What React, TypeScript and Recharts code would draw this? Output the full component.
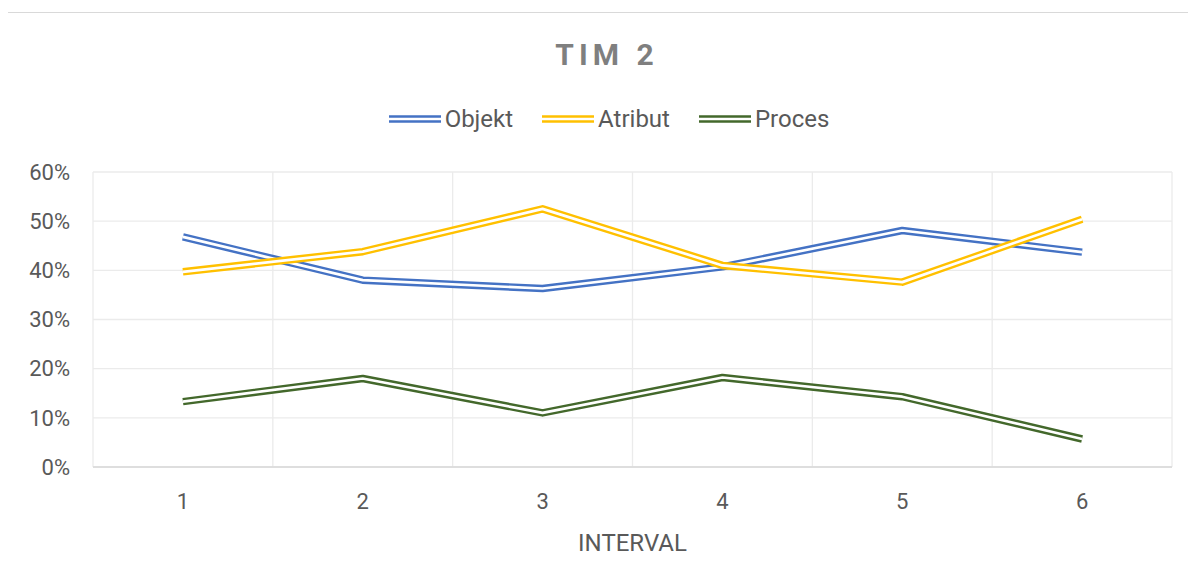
import { LineChart, Line, XAxis, YAxis, CartesianGrid, ReferenceLine } from 'recharts';

// values, in percent
const intervals = [1, 2, 3, 4, 5, 6];
const objekt = [46.8, 38.0, 36.3, 40.7, 48.1, 43.7];
const atribut = [39.7, 43.8, 52.5, 41.0, 37.6, 50.4];
const proces = [13.3, 18.0, 11.0, 18.2, 14.3, 5.7];
const yTicks = [0, 10, 20, 30, 40, 50, 60];
// category boundaries (vertical gridlines sit between the intervals)
const bounds = [0.5, 1.5, 2.5, 3.5, 4.5, 5.5, 6.5];

const series = [
  { key: 'objekt', name: 'Objekt', color: '#4472c4' },
  { key: 'atribut', name: 'Atribut', color: '#ffc000' },
  { key: 'proces', name: 'Proces', color: '#43682b' },
];

const data = intervals.map((x, i) => ({
  x,
  objekt: objekt[i],
  atribut: atribut[i],
  proces: proces[i],
}));

const FONT = 'Roboto, "Noto Sans", sans-serif';
const TEXT = '#595959';

function DoubleIcon({ color }: { color: string }) {
  return (
    <svg width={52} height={10} style={{ display: 'block' }}>
      <line x1={0} y1={5} x2={52} y2={5} stroke={color} strokeWidth={7.5} />
      <line x1={0} y1={5} x2={52} y2={5} stroke="#fff" strokeWidth={2.7} />
    </svg>
  );
}

function ChartLegend() {
  return (
    <div
      style={{
        position: 'absolute',
        top: 93,
        left: 0,
        width: '100%',
        display: 'flex',
        justifyContent: 'center',
        alignItems: 'center',
        height: 26,
        fontSize: 24,
        color: TEXT,
        paddingLeft: 4,
        boxSizing: 'border-box',
      }}
    >
      {series.map((s, i) => (
        <div
          key={s.key}
          style={{ display: 'flex', alignItems: 'center', marginLeft: i === 0 ? 0 : 29 }}
        >
          <DoubleIcon color={s.color} />
          <span style={{ marginLeft: 4, lineHeight: '26px' }}>{s.name}</span>
        </div>
      ))}
    </div>
  );
}

export default function App() {
  return (
    <div
      style={{
        position: 'relative',
        width: 1200,
        height: 580,
        marginTop: 4,
        marginLeft: -1,
        border: '1px solid #d9d9d9',
        boxSizing: 'border-box',
        background: '#fff',
        fontFamily: FONT,
      }}
    >
      <div
        style={{
          position: 'absolute',
          top: 24,
          left: 0,
          width: '100%',
          textAlign: 'center',
          fontSize: 30,
          lineHeight: '36px',
          fontWeight: 700,
          letterSpacing: 5,
          color: '#7f7f7f',
        }}
      >
        TIM 2
      </div>
      <ChartLegend />
      <div style={{ position: 'absolute', top: 0, left: 0 }}>
        <LineChart
          width={1198}
          height={578}
          data={data}
          margin={{ top: 159, right: 34, bottom: 34, left: 15 }}
        >
          <CartesianGrid vertical={false} stroke="#ebebeb" strokeWidth={1.3} />
          {bounds.map((b) => (
            <ReferenceLine key={b} x={b} stroke="#ebebeb" strokeWidth={1.3} />
          ))}
          <XAxis
            dataKey="x"
            type="number"
            domain={[0.5, 6.5]}
            ticks={intervals}
            height={90}
            tickSize={0}
            tickMargin={26}
            tickLine={false}
            axisLine={{ stroke: '#d9d9d9', strokeWidth: 1.3 }}
            tick={{ fill: TEXT, fontSize: 22, fontFamily: FONT }}
            label={{
              value: 'INTERVAL',
              position: 'insideBottom',
              offset: 6,
              fill: TEXT,
              fontSize: 24,
              fontFamily: FONT,
            }}
          />
          <YAxis
            type="number"
            domain={[0, 60]}
            ticks={yTicks}
            width={70}
            tickSize={0}
            tickMargin={23}
            tickLine={false}
            axisLine={false}
            tickFormatter={(v: number) => `${v}%`}
            tick={{ fill: TEXT, fontSize: 22, fontFamily: FONT }}
          />
          {series.flatMap((s) => [
            <Line
              key={s.key}
              type="linear"
              dataKey={s.key}
              name={s.name}
              stroke={s.color}
              strokeWidth={7.5}
              strokeLinejoin="round"
              dot={false}
              activeDot={false}
              isAnimationActive={false}
            />,
            <Line
              key={s.key + '-core'}
              type="linear"
              dataKey={s.key}
              legendType="none"
              stroke="#ffffff"
              strokeWidth={2.7}
              strokeLinejoin="round"
              dot={false}
              activeDot={false}
              isAnimationActive={false}
            />,
          ])}
        </LineChart>
      </div>
    </div>
  );
}
